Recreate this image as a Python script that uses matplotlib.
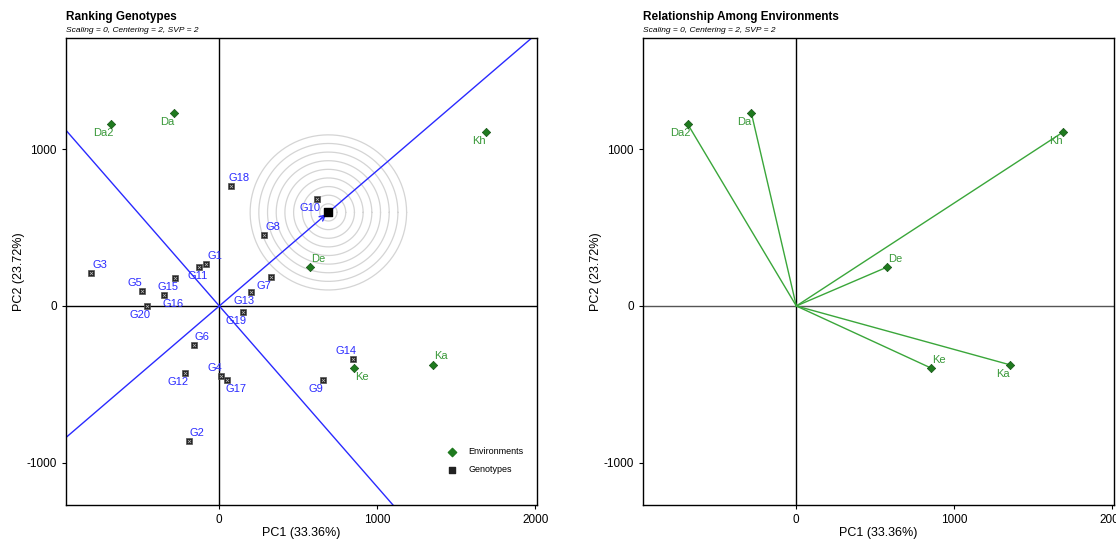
import matplotlib.pyplot as plt
import numpy as np

plt.rcParams['font.family'] = ['Liberation Sans', 'DejaVu Sans']
plt.rcParams['axes.unicode_minus'] = False

# genotype scores (PC1, PC2)
gen_names = ['G1', 'G2', 'G3', 'G4', 'G5', 'G6', 'G7', 'G8', 'G9', 'G10',
             'G11', 'G12', 'G13', 'G14', 'G15', 'G16', 'G17', 'G18', 'G19', 'G20']
gen_x = [-82, -192, -810, 13, -489, -163, 329, 285, 656, 620,
         -127, -215, 198, 844, -283, -348, 51, 72, 150, -458]
gen_y = [267, -862, 208, -450, 96, -250, 187, 452, -471, 680,
         248, -429, 91, -340, 180, 70, -473, 766, -36, 0]

# environment scores (PC1, PC2)
env_names = ['Da2', 'Da', 'Kh', 'De', 'Ke', 'Ka']
env_x = [-688, -284, 1688, 574, 850, 1350]
env_y = [1162, 1229, 1110, 248, -395, -375]

# ideal genotype
ideal = (690, 597)

# label position relative to the point
gen_pos = {'G1': 'ur', 'G2': 'ur', 'G3': 'ur', 'G4': 'ul', 'G5': 'ul', 'G6': 'ur',
           'G7': 'll', 'G8': 'ur', 'G9': 'll', 'G10': 'll', 'G11': 'lc', 'G12': 'll',
           'G13': 'll', 'G14': 'ul', 'G15': 'll', 'G16': 'lr', 'G17': 'lr', 'G18': 'ur',
           'G19': 'll', 'G20': 'll'}
env_pos_left = {'Da2': 'll', 'Da': 'll', 'Kh': 'll', 'De': 'ur', 'Ke': 'lr', 'Ka': 'ur'}
env_pos_right = {'Da2': 'll', 'Da': 'll', 'Kh': 'll', 'De': 'ur', 'Ke': 'ur', 'Ka': 'll'}

OFF = {'ur': (6, 6), 'ul': (-5, 6), 'll': (-5, -6.5), 'lr': (6, -6.5), 'lc': (-1, -6.5)}

BLUE = '#2a2aff'
ENV_GREEN = '#1e7a1e'
LAB_GREEN = '#389838'
LINE_GREEN = '#3aa63a'
XLIM = (-970, 2010)
YLIM = (-1270, 1710)


def label(ax, x, y, txt, pos, color):
    dx, dy = OFF[pos]
    ax.annotate(txt, (x, y), xytext=(dx, dy), textcoords='offset points',
                ha='center', va='center', fontsize=8, color=color)


def setup(ax, title, hcolor='black'):
    ax.set_xlim(XLIM)
    ax.set_ylim(YLIM)
    ax.axhline(0, color=hcolor, linewidth=1.0, zorder=1)
    ax.axvline(0, color='black', linewidth=1.0, zorder=1)
    ax.set_xticks([0, 1000, 2000])
    ax.set_yticks([-1000, 0, 1000])
    ax.tick_params(labelsize=8.5, length=3, direction='out', width=0.8)
    ax.set_xlabel('PC1 (33.36%)', fontsize=9, labelpad=1)
    ax.set_ylabel('PC2 (23.72%)', fontsize=9, labelpad=1)
    for s in ax.spines.values():
        s.set_linewidth(1.0)
    ax.text(0.0, 1.045, title, transform=ax.transAxes, fontsize=8.5,
            fontweight='bold', ha='left', va='center')
    ax.text(0.0, 1.015, 'Scaling = 0, Centering = 2, SVP = 2', transform=ax.transAxes,
            fontsize=6, style='italic', ha='left', va='center')


fig = plt.figure(figsize=(11.16, 5.42), dpi=100)
ax1 = fig.add_axes([66 / 1116, 1 - 505 / 542, 471 / 1116, 467 / 542])
ax2 = fig.add_axes([643 / 1116, 1 - 505 / 542, 471 / 1116, 467 / 542])

# ---- left: ranking genotypes
setup(ax1, 'Ranking Genotypes')
slope = ideal[1] / ideal[0]
xs = np.array(XLIM)
ax1.plot(xs, slope * xs, color=BLUE, linewidth=1.0, zorder=2)
ax1.plot(xs, -xs / slope, color=BLUE, linewidth=1.0, zorder=2)
ax1.annotate('', xy=ideal, xytext=(ideal[0] - 60, ideal[1] - 52),
             arrowprops=dict(arrowstyle='->', color=BLUE, lw=1.0))
t = np.linspace(0, 2 * np.pi, 200)
for k in range(1, 10):
    r = 55 * k
    ax1.plot(ideal[0] + r * np.cos(t), ideal[1] + r * np.sin(t),
             color='#d4d4d4', linewidth=0.9, zorder=0)

ax1.scatter(gen_x, gen_y, marker='s', s=14, color='#222222', edgecolors='#555555',
            linewidths=0.5, zorder=4)
ax1.scatter(gen_x, gen_y, marker='x', s=5, color='#bbbbbb', linewidths=0.5, zorder=5)
ax1.scatter([ideal[0]], [ideal[1]], marker='s', s=36, color='black', zorder=6)
for n, x, y in zip(gen_names, gen_x, gen_y):
    label(ax1, x, y, n, gen_pos[n], BLUE)

ax1.scatter(env_x, env_y, marker='D', s=18, color=ENV_GREEN, edgecolors='#145214',
            linewidths=0.5, zorder=4)
for n, x, y in zip(env_names, env_x, env_y):
    label(ax1, x, y, n, env_pos_left[n], LAB_GREEN)

# legend
h1 = ax1.scatter([], [], marker='D', s=18, color=ENV_GREEN)
h2 = ax1.scatter([], [], marker='s', s=14, color='#222222')
ax1.legend([h1, h2], ['Environments', 'Genotypes'], loc='lower right',
           bbox_to_anchor=(0.985, 0.053), frameon=False, fontsize=6.5,
           handletextpad=0.8, labelspacing=1.0, borderaxespad=0.3)

# ---- right: relationship among environments
setup(ax2, 'Relationship Among Environments', hcolor='#555555')
for x, y in zip(env_x, env_y):
    ax2.plot([0, x], [0, y], color=LINE_GREEN, linewidth=1.0, zorder=2)
ax2.scatter(env_x, env_y, marker='D', s=18, color=ENV_GREEN, edgecolors='#145214',
            linewidths=0.5, zorder=4)
for n, x, y in zip(env_names, env_x, env_y):
    label(ax2, x, y, n, env_pos_right[n], LAB_GREEN)

fig.savefig('out.png', dpi=100)
